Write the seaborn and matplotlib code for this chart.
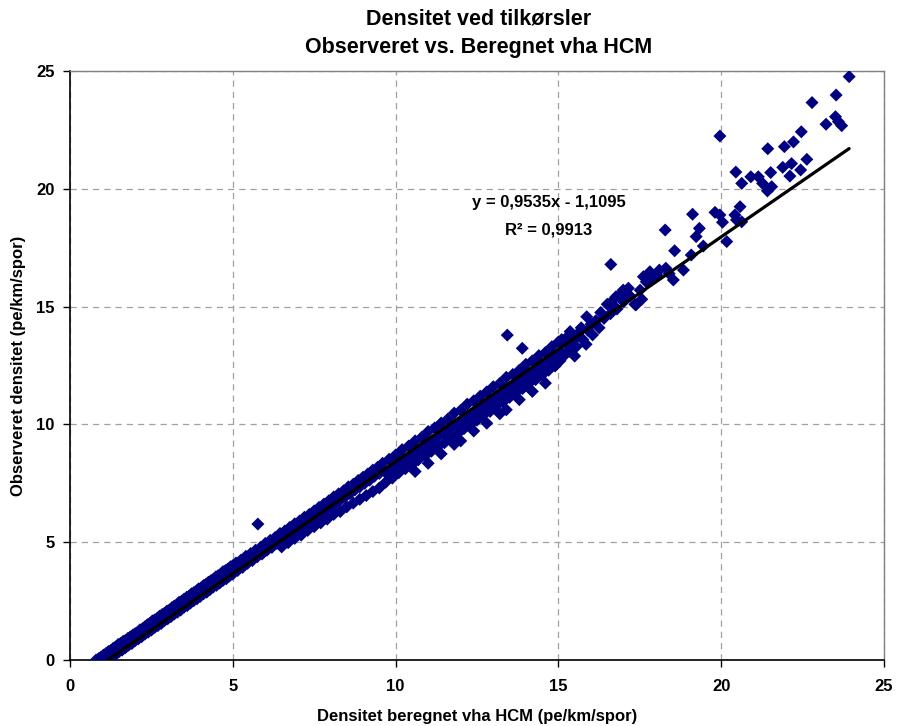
import numpy as np
import pandas as pd
import matplotlib
matplotlib.use("Agg")
import matplotlib.pyplot as plt
import seaborn as sns

# ---------------- data ----------------
# low band, upper strand
a_up_x = [0.80, 0.88, 0.95, 1.03, 1.10, 1.18, 1.25, 1.33, 1.40, 1.48, 1.55, 1.63, 1.70, 1.78, 1.85, 1.93,
          2.00, 2.08, 2.15, 2.23, 2.30, 2.38, 2.45, 2.53, 2.60, 2.68, 2.75, 2.83, 2.90, 2.98, 3.05, 3.13,
          3.20, 3.28, 3.35, 3.43, 3.50, 3.58, 3.65, 3.73, 3.80, 3.88, 3.95, 4.03, 4.10, 4.18, 4.25, 4.33,
          4.40, 4.48, 4.55, 4.63, 4.70, 4.78, 4.85, 4.93, 5.00]
a_up_y = [0.00, 0.06, 0.12, 0.21, 0.27, 0.36, 0.40, 0.50, 0.55, 0.66, 0.70, 0.79, 0.83, 0.92, 0.98, 1.06,
          1.12, 1.18, 1.28, 1.33, 1.41, 1.50, 1.55, 1.66, 1.70, 1.77, 1.86, 1.93, 1.98, 2.08, 2.12, 2.22,
          2.29, 2.34, 2.45, 2.50, 2.58, 2.66, 2.70, 2.81, 2.86, 2.93, 3.02, 3.06, 3.16, 3.22, 3.30, 3.37,
          3.42, 3.53, 3.58, 3.64, 3.75, 3.80, 3.86, 3.96, 4.00]
# low band, lower strand
a_lo_x = [1.10, 1.20, 1.30, 1.40, 1.50, 1.60, 1.70, 1.80, 1.90, 2.00, 2.10, 2.20, 2.30, 2.40, 2.50, 2.60,
          2.70, 2.80, 2.90, 3.00, 3.10, 3.20, 3.30, 3.40, 3.50, 3.60, 3.70, 3.80, 3.90, 4.00, 4.10, 4.20,
          4.30, 4.40, 4.50, 4.60, 4.70, 4.80, 4.90, 5.00]
a_lo_y = [0.00, 0.05, 0.15, 0.23, 0.35, 0.42, 0.52, 0.63, 0.70, 0.82, 0.90, 0.99, 1.10, 1.18, 1.27, 1.38,
          1.46, 1.55, 1.67, 1.75, 1.84, 1.95, 2.03, 2.12, 2.24, 2.31, 2.42, 2.52, 2.60, 2.70, 2.81, 2.88,
          2.99, 3.10, 3.17, 3.27, 3.38, 3.45, 3.57, 3.65]
# middle band
b_up_x = [5.10, 5.25, 5.40, 5.55, 5.70, 5.85, 6.00, 6.15, 6.30, 6.45, 6.60, 6.75, 6.90, 7.05, 7.20, 7.35,
          7.50, 7.65, 7.80, 7.95, 8.10, 8.25, 8.40, 8.55, 8.70, 8.85, 9.00, 9.15, 9.30, 9.45]
b_up_y = [4.12, 4.24, 4.40, 4.52, 4.66, 4.78, 4.95, 5.08, 5.20, 5.37, 5.48, 5.63, 5.78, 5.90, 6.06, 6.18,
          6.33, 6.48, 6.62, 6.76, 6.92, 7.05, 7.18, 7.35, 7.46, 7.62, 7.76, 7.90, 8.06, 8.18]
b_mid_x = [5.15, 5.30, 5.45, 5.60, 5.75, 5.90, 6.05, 6.20, 6.35, 6.50, 6.65, 6.80, 6.95, 7.10, 7.25, 7.40,
           7.55, 7.70, 7.85, 8.00, 8.15, 8.30, 8.45, 8.60, 8.75, 8.90, 9.05, 9.20, 9.35, 9.50]
b_mid_y = [3.80, 3.93, 4.10, 4.22, 4.38, 4.50, 4.66, 4.78, 4.95, 5.07, 5.22, 5.36, 5.50, 5.64, 5.78, 5.93,
           6.08, 6.20, 6.36, 6.50, 6.63, 6.78, 6.93, 7.06, 7.22, 7.35, 7.50, 7.63, 7.80, 7.92]
b_lo_x = [6.50, 6.70, 6.90, 7.10, 7.30, 7.50, 7.70, 7.90, 8.10, 8.30, 8.50, 8.70, 8.90, 9.10, 9.30, 9.50]
b_lo_y = [4.80, 4.98, 5.16, 5.30, 5.50, 5.66, 5.82, 5.98, 6.18, 6.30, 6.50, 6.66, 6.82, 6.98, 7.15, 7.30]
# upper band
c_up_x = [9.60, 9.80, 10.00, 10.20, 10.40, 10.60, 10.80, 11.00, 11.20, 11.40, 11.60, 11.80, 12.00, 12.20,
          12.40, 12.60, 12.80, 13.00, 13.20, 13.40, 13.60, 13.80, 14.00, 14.20, 14.40, 14.60, 14.80, 15.00]
c_up_y = [8.35, 8.52, 8.70, 8.93, 9.08, 9.30, 9.45, 9.70, 9.85, 10.06, 10.22, 10.48, 10.60, 10.86,
          11.00, 11.20, 11.38, 11.60, 11.74, 12.00, 12.12, 12.30, 12.55, 12.70, 12.92, 13.05, 13.30, 13.50]
c_mid_x = [9.70, 9.90, 10.10, 10.30, 10.50, 10.70, 10.90, 11.10, 11.30, 11.50, 11.70, 11.90, 12.10, 12.30,
           12.50, 12.70, 12.90, 13.10, 13.30, 13.50, 13.70, 13.90, 14.10, 14.30, 14.50, 14.70, 14.90, 15.10]
c_mid_y = [7.95, 8.12, 8.35, 8.50, 8.72, 8.88, 9.10, 9.25, 9.48, 9.62, 9.85, 10.02, 10.22, 10.38,
           10.62, 10.78, 10.98, 11.15, 11.38, 11.55, 11.75, 11.92, 12.12, 12.30, 12.50, 12.68, 12.90, 13.05]
c_lo_x = [9.70, 9.90, 10.10, 10.30, 10.50, 10.70, 10.90, 11.10, 11.30, 11.50, 11.70, 11.90, 12.10, 12.30,
          12.50, 12.70, 12.90, 13.10, 13.30, 13.50, 13.70, 13.90, 14.10, 14.30, 14.50, 14.70, 14.90]
c_lo_y = [7.55, 7.72, 7.95, 8.12, 8.28, 8.50, 8.66, 8.86, 9.05, 9.22, 9.44, 9.60, 9.82, 10.00,
          10.18, 10.40, 10.55, 10.78, 10.95, 11.15, 11.35, 11.52, 11.74, 11.90, 12.10, 12.30, 12.48]
c_low2_x = [10.60, 11.00, 11.40, 11.80, 12.00, 12.40, 12.80, 13.20, 13.40, 13.80, 14.20, 14.60]
c_low2_y = [8.00, 8.35, 8.75, 9.15, 9.30, 9.72, 10.05, 10.45, 10.62, 11.05, 11.40, 11.75]
# sparse upper part and outliers
d_x = [15.05, 15.20, 15.35, 15.50, 15.10, 15.25, 15.30, 15.36, 15.45, 15.55, 15.60, 15.70, 15.75, 15.85,
       15.87, 15.90, 16.00, 16.05, 16.15, 16.25, 16.30, 16.40, 16.50, 16.60, 16.70, 16.80, 16.90, 17.00,
       17.15, 17.20, 17.35, 13.43, 13.89, 5.77, 16.61, 17.38, 16.64, 17.56, 16.77, 17.51, 16.99, 17.61,
       17.70, 17.85, 18.10, 18.40, 18.53, 18.30, 18.02, 17.81, 18.84, 19.08, 18.57, 18.28, 19.45, 19.23,
       19.33, 19.12, 20.17, 20.63, 20.47, 20.58, 20.42, 20.04, 19.96, 19.81, 21.42, 21.55, 21.27, 20.63,
       21.52, 21.14, 20.91, 20.45, 22.11, 22.44, 21.89, 22.16, 22.63, 21.43, 21.94, 22.22, 22.46, 19.96,
       23.70, 23.60, 23.22, 23.51, 22.79, 23.53, 23.93]
d_y = [12.70, 12.95, 13.10, 12.90, 13.60, 13.40, 13.75, 13.94, 13.55, 13.30, 13.85, 14.10, 13.60, 13.40,
       14.57, 14.00, 14.25, 13.80, 14.40, 14.10, 14.75, 14.50, 15.10, 14.70, 15.30, 14.90, 15.50, 15.20,
       15.78, 15.45, 15.10, 13.79, 13.23, 5.77, 16.79, 15.07, 15.07, 15.31, 15.42, 15.70, 15.70, 16.27,
       16.05, 16.20, 16.55, 16.40, 16.13, 16.63, 16.34, 16.48, 16.55, 17.19, 17.37, 18.25, 17.57, 17.97,
       18.32, 18.92, 17.76, 18.60, 18.68, 19.24, 18.89, 18.58, 18.89, 19.00, 19.91, 20.09, 20.23, 20.23,
       20.69, 20.51, 20.51, 20.71, 20.54, 20.80, 20.91, 21.07, 21.25, 21.70, 21.79, 21.99, 22.42, 22.24,
       22.68, 22.85, 22.74, 23.06, 23.66, 23.98, 24.76]

trend_slope = 0.9535
trend_intercept = -1.1095

title_lines = ["Densitet ved tilkørsler", "Observeret vs. Beregnet vha HCM"]
xlabel = "Densitet beregnet vha HCM (pe/km/spor)"
ylabel = "Observeret densitet (pe/km/spor)"
eq_text = "y = 0,9535x - 1,1095"
r2_text = "R² = 0,9913"
ticks = [0, 5, 10, 15, 20, 25]

# ---------------- build ----------------
xs = a_up_x + a_lo_x + b_up_x + b_mid_x + b_lo_x + c_up_x + c_mid_x + c_lo_x + c_low2_x + d_x
ys = a_up_y + a_lo_y + b_up_y + b_mid_y + b_lo_y + c_up_y + c_mid_y + c_lo_y + c_low2_y + d_y
df = pd.DataFrame({"hcm": xs, "obs": ys})

sns.set_theme(style="white")
plt.rcParams["font.family"] = ["Liberation Sans", "DejaVu Sans"]
plt.rcParams["font.weight"] = "bold"
plt.rcParams["text.color"] = "black"
plt.rcParams["axes.labelcolor"] = "black"
plt.rcParams["xtick.color"] = "black"
plt.rcParams["ytick.color"] = "black"

fig = plt.figure(figsize=(8.99, 7.26), dpi=100)
ax = fig.add_axes([70 / 899, 66 / 726, 814 / 899, 589 / 726])

ax.grid(True, color="#a0a0a0", linestyle=(0, (5, 4)), linewidth=0.9)
ax.set_axisbelow(True)

sns.scatterplot(data=df, x="hcm", y="obs", marker="D", color="#000080",
                edgecolor="none", s=44, ax=ax, zorder=3, legend=False)

tx = np.array([df["hcm"].min(), df["hcm"].max()])
ax.plot(tx, trend_slope * tx + trend_intercept, color="black", linewidth=2.3, zorder=4)

ax.set_xlabel("")
ax.set_ylabel("")
ax.set_xlim(0, 25)
ax.set_ylim(0, 25)
ax.set_xticks(ticks)
ax.set_yticks(ticks)
ax.set_xticklabels([str(t) for t in ticks], fontsize=12, fontweight="bold", color="black")
ax.set_yticklabels([str(t) for t in ticks], fontsize=12, fontweight="bold", color="black")
ax.tick_params(axis="x", direction="out", length=5, width=1, colors="black",
               bottom=True, top=False, pad=9)
ax.tick_params(axis="y", direction="out", length=5, width=1, colors="black",
               left=True, right=False, pad=6)

for side in ["top", "right"]:
    ax.spines[side].set_color("#808080")
    ax.spines[side].set_linewidth(1)
for side in ["left", "bottom"]:
    ax.spines[side].set_color("black")
    ax.spines[side].set_linewidth(1.2)

fig.text(477 / 899, 1 - 716 / 726, xlabel, ha="center", va="center",
         fontsize=12, fontweight="bold", color="black")
fig.text(19 / 899, 1 - 366 / 726, ylabel, ha="center", va="center", rotation=90,
         fontsize=12, fontweight="bold", color="black")

fig.text(479 / 899, 1 - 19 / 726, title_lines[0], ha="center", va="center",
         fontsize=15.5, fontweight="bold", color="black")
fig.text(479 / 899, 1 - 47 / 726, title_lines[1], ha="center", va="center",
         fontsize=15.5, fontweight="bold", color="black")

ax.text(14.71, 19.40, eq_text, ha="center", va="center", fontsize=12,
        fontweight="bold", color="black", zorder=5)
ax.text(14.71, 18.25, r2_text, ha="center", va="center", fontsize=12,
        fontweight="bold", color="black", zorder=5)

fig.savefig("out.png", dpi=100)
